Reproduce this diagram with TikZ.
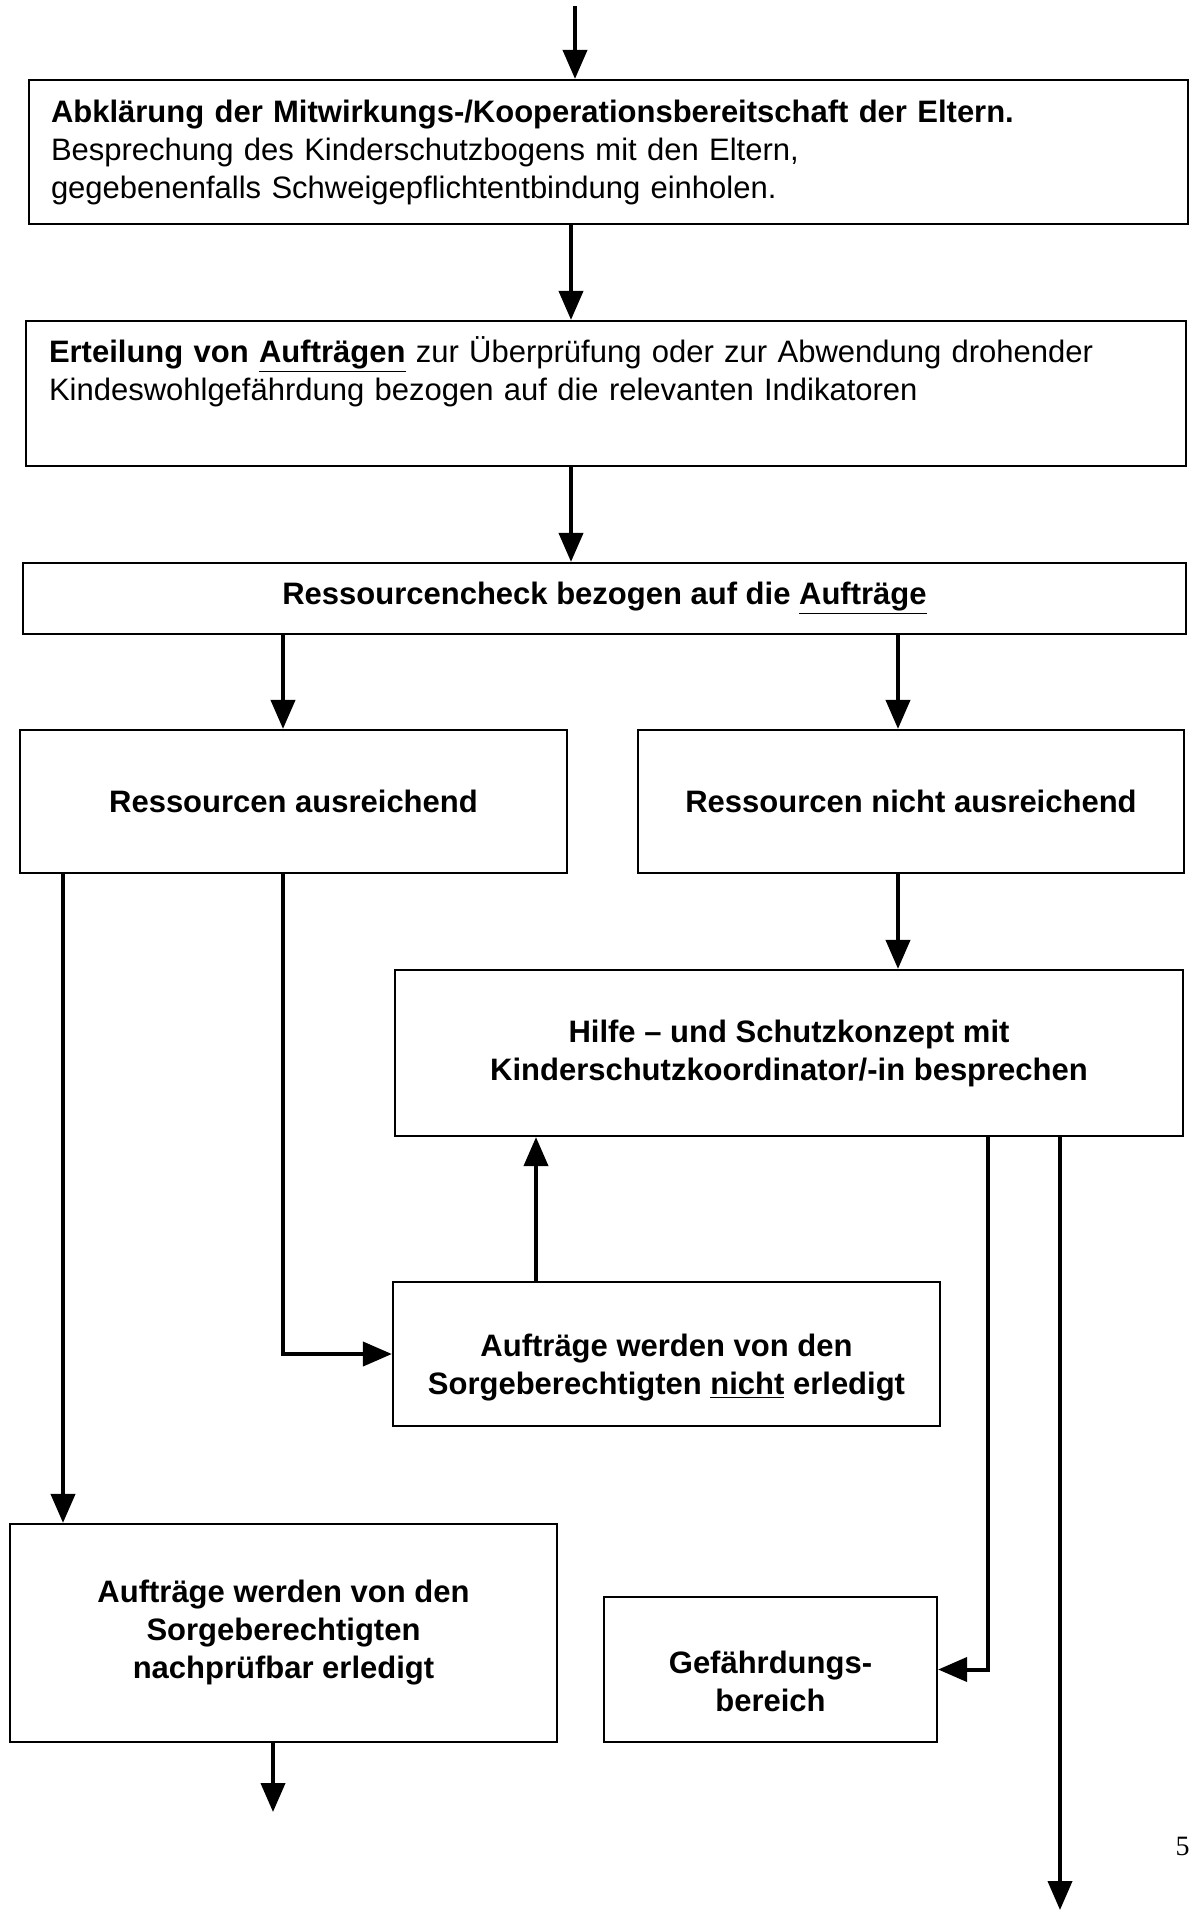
\documentclass[tikz,border=0pt]{standalone}
\usepackage{fontspec}
\setmainfont{Liberation Sans}
\newfontfamily\pagefont{Liberation Serif}
\usetikzlibrary{arrows.meta, positioning}
\tikzstyle{block} = [draw, fill=white, rectangle, line width=1.1pt, inner sep=0pt, font=\fontsize{15.5}{19}\selectfont\bfseries]
\tikzstyle{leftblock} = [block, align=left, font=\fontsize{15.5}{19}\selectfont]
\tikzstyle{link} = [line width=2pt]

\begin{document}
\begin{tikzpicture}[x=0.5pt, y=-0.5pt, >={Triangle[length=14.5pt, width=12pt]}]
  \useasboundingbox (0,0) rectangle (1190,1919);
  \coordinate (start) at (575,6);
  \coordinate (colmid) at (571,0);
  \coordinate (colL) at (283,0);
  \coordinate (colR) at (898,0);
  \coordinate (colLL) at (63,0);
  \coordinate (colM) at (536,0);
  \coordinate (colG) at (988,0);
  \coordinate (exitL) at (273,1812);
  \coordinate (exitR) at (1060,1910);

  \node[leftblock, minimum width=579.5pt, minimum height=72pt, text width=557.5pt] (klaerung) at (608.5,152)
    {\textbf{Abklärung der Mitwirkungs-/Kooperationsbereitschaft der Eltern.}\\
     Besprechung des Kinderschutzbogens mit den Eltern,\\
     gegebenenfalls Schweigepflichtentbindung einholen.};
  \node[leftblock, minimum width=580pt, minimum height=72.5pt, text width=557pt, text depth=44pt] (auftraege) at (606,393.5)
    {\textbf{Erteilung von \underline{Aufträgen}} zur Überprüfung oder zur Abwendung drohender\\
     Kindeswohlgefährdung bezogen auf die relevanten Indikatoren};
  \node[block, minimum width=581.5pt, minimum height=35.5pt] (check) at (604.5,598.5)
    {Ressourcencheck bezogen auf die \underline{Aufträge}};
  \node[block, minimum width=273.5pt, minimum height=71.5pt] (genug) at (293.5,801.5)
    {Ressourcen ausreichend};
  \node[block, minimum width=273pt, minimum height=71.5pt] (nichtgenug) at (911,801.5)
    {Ressourcen nicht ausreichend};
  \node[block, minimum width=394pt, minimum height=83pt, align=center] (konzept) at (789,1053)
    {Hilfe -- und Schutzkonzept mit\\Kinderschutzkoordinator/-in besprechen};
  \node[block, minimum width=273.5pt, minimum height=72pt, align=center, text height=44pt, text depth=4pt] (nichterledigt) at (666.5,1354)
    {Aufträge werden von den\\Sorgeberechtigten \underline{nicht} erledigt};
  \node[block, minimum width=273.5pt, minimum height=109pt, align=center] (erledigt) at (283.5,1633)
    {Aufträge werden von den\\Sorgeberechtigten\\nachprüfbar erledigt};
  \node[block, minimum width=166.5pt, minimum height=72.5pt, align=center, text height=45.5pt, text depth=4pt] (gefahr) at (770.5,1669.5)
    {Gefährdungs-\\bereich};
  \node[font=\pagefont\fontsize{14}{14}\selectfont, anchor=east, inner sep=0pt] (seite) at (1190,1846) {5};

  \draw[link, ->] (start) -- (start |- klaerung.north);
  \draw[link, ->] (colmid |- klaerung.south) -- (colmid |- auftraege.north);
  \draw[link, ->] (colmid |- auftraege.south) -- (colmid |- check.north);
  \draw[link, ->] (colL |- check.south) -- (colL |- genug.north);
  \draw[link, ->] (colR |- check.south) -- (colR |- nichtgenug.north);
  \draw[link, ->] (colR |- nichtgenug.south) -- (colR |- konzept.north);
  \draw[link, ->] (colLL |- genug.south) -- (colLL |- erledigt.north);
  \draw[link, ->] (colL |- genug.south) |- (nichterledigt.west);
  \draw[link, ->] (colM |- nichterledigt.north) -- (colM |- konzept.south);
  \draw[link, ->] (colG |- konzept.south) |- (gefahr.east);
  \draw[link, ->] (exitR |- konzept.south) -- (exitR);
  \draw[link, ->] (exitL |- erledigt.south) -- (exitL);
\end{tikzpicture}
\end{document}
